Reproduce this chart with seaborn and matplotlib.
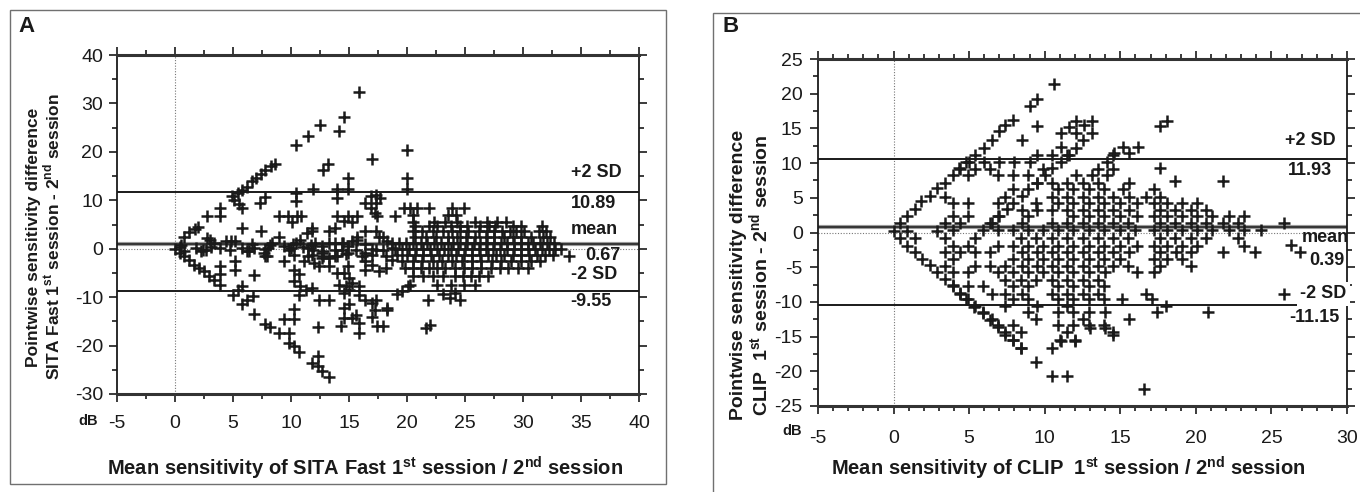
import pandas as pd
import matplotlib
matplotlib.use("Agg")
import matplotlib.pyplot as plt
import matplotlib.ticker as mticker
from matplotlib.patches import Rectangle
import seaborn as sns

# ── Panel A: SITA Fast, (mean sensitivity, difference) ────────────────────────
a_top = [(15.9, 32.3), (14.6, 27.2), (12.5, 25.5), (11.5, 23.2), (10.4, 21.5), (14.1, 24.4),
         (17.0, 18.6), (20.0, 20.4), (20.0, 14.5), (20.0, 12.4), (13.2, 17.5), (12.8, 16.3),
         (14.9, 14.6), (14.0, 12.4), (14.9, 12.4), (11.9, 12.3), (10.4, 11.5), (10.4, 9.8),
         (14.0, 10.5)]
a_upper_left = [(0.8, 2.5), (1.2, 3.4), (1.7, 4.0), (2.0, 4.4), (4.9, 10.8), (5.4, 11.5),
                (5.8, 12.2), (6.2, 12.8), (6.6, 13.9), (7.0, 14.6), (7.4, 15.4), (7.8, 16.2),
                (8.3, 17.0), (8.6, 17.5), (5.1, 10.1), (5.5, 9.2), (5.8, 8.4), (7.3, 9.5),
                (7.8, 10.6), (3.9, 8.4), (3.9, 6.7), (2.8, 6.7), (2.8, 2.2), (5.8, 4.3),
                (7.4, 3.6), (9.0, 6.7), (9.7, 6.7), (10.1, 5.6), (10.5, 6.7), (10.9, 6.7),
                (14.0, 6.7), (14.6, 5.8), (14.9, 6.7), (15.3, 5.6), (15.7, 6.7), (19.0, 6.7),
                (16.4, 9.4), (16.9, 10.8), (17.3, 11.1), (17.7, 10.5), (17.3, 9.4), (16.9, 8.4),
                (17.2, 7.4), (17.4, 6.7), (11.4, 3.2), (11.8, 4.3), (13.3, 3.6), (13.8, 4.3),
                (15.7, 2.5), (16.4, 3.6), (17.3, 3.6), (17.9, 2.5), (9.0, 2.5), (10.8, 1.9),
                (11.8, 3.6)]
a_middle = [(3.4, 1.2), (4.4, 1.5), (5.2, 1.5), (8.4, 1.2), (10.4, 1.2), (12.1, 1.2),
            (13.3, 1.2), (13.8, 1.2), (14.4, 1.2), (15.3, 1.5), (18.3, 1.5), (0.5, 0.8),
            (3.0, 1.8), (4.8, 1.5), (6.6, 1.0), (8.2, 0.8), (10.2, 1.0), (11.7, 0.8),
            (14.5, 1.2), (15.7, 1.9), (16.4, 1.0), (17.6, 2.5),
            (0.0, 0.0), (0.4, 0.4), (0.8, -0.5), (1.8, 0.1), (2.2, -0.5), (2.7, -0.2),
            (3.9, 0.2), (5.8, 0.2), (6.2, -0.5), (6.8, 0.2), (7.7, -0.9), (8.0, 0.2),
            (9.4, 0.5), (10.0, 0.2), (11.5, 0.2), (12.7, 0.5), (14.9, 0.5), (16.4, -0.9),
            (17.3, -0.2), (18.7, 0.2), (2.4, -0.2), (3.1, 0.3), (4.7, -0.2), (6.4, -0.4),
            (7.8, 0.0), (9.8, -0.2), (11.0, 0.4), (11.9, -0.3), (12.8, -0.4), (13.8, -0.2),
            (14.4, -0.2), (15.6, -0.2), (17.0, 0.0), (17.9, -0.2), (7.9, -1.5),
            (11.8, -1.3), (12.8, -1.5), (13.8, -1.5), (14.7, -1.1), (16.1, -1.5), (17.0, -1.3)]
a_lower_left = [(0.4, -0.9), (0.8, -1.6), (1.2, -2.3), (1.6, -3.3), (2.1, -4.0), (2.5, -4.7),
                (2.9, -5.6), (3.4, -6.4), (3.9, -7.4), (3.9, -3.6), (3.9, -5.2), (5.2, -2.6),
                (5.2, -4.3), (6.8, -5.4), (7.8, -1.6), (9.4, -2.6), (10.3, -1.2), (10.3, -4.3),
                (10.7, -5.3), (10.3, -6.7), (10.8, -7.8), (10.7, -9.5), (11.3, -8.5),
                (11.8, -8.1), (11.1, -2.6), (11.5, -1.6), (12.0, -2.9), (12.4, -3.6),
                (12.7, -0.9), (12.7, -1.9), (13.3, -1.9), (13.3, -3.6), (14.0, -1.6),
                (14.0, -5.0), (14.9, -0.9), (14.9, -3.6), (14.6, -5.0), (15.0, -6.0),
                (14.1, -7.4), (14.7, -7.8), (15.3, -7.1), (15.9, -7.8), (15.9, -9.5),
                (14.6, -9.2), (15.0, -8.5), (16.4, -10.5), (17.0, -11.2), (17.3, -10.5),
                (18.3, -12.6), (17.2, -12.6), (17.0, -14.0), (17.4, -16.0), (17.9, -16.0),
                (14.6, -12.2), (15.0, -11.5), (14.6, -14.3), (14.3, -16.0), (15.3, -14.3),
                (15.9, -15.3), (15.9, -17.4), (15.6, -13.6), (16.4, -4.3), (16.4, -2.6),
                (17.0, -3.3), (17.6, -4.7), (18.2, -4.0), (18.7, -2.3), (18.2, -1.6),
                (5.0, -9.5), (5.4, -8.5), (5.8, -7.6), (5.8, -11.5), (6.2, -10.5), (6.7, -9.7),
                (6.8, -13.5), (7.8, -15.5), (8.2, -16.2), (9.0, -17.5), (9.4, -14.5),
                (10.3, -14.5), (9.8, -17.4), (10.3, -12.4), (9.8, -19.5), (10.3, -20.1),
                (10.7, -21.4), (11.8, -23.7), (12.3, -22.2), (12.3, -24.3), (12.7, -25.3),
                (13.3, -26.5), (12.3, -16.2), (12.4, -10.5), (13.3, -10.5)]
a_far = [(34.0, -1.5), (19.1, -9.4), (19.6, -8.8), (20.1, -7.7), (21.8, -10.5), (23.1, -9.4),
         (23.7, -10.1), (24.1, -9.1), (24.6, -10.5), (18.3, -12.2), (21.6, -16.4), (22.0, -15.7)]
# dense diamond on the right: difference -> mean sensitivities
a_rows = {
    8.4: [19.7, 20.3, 20.9, 21.9, 23.9, 24.9],
    7.0: [20.5, 23.5, 24.2],
    5.6: [20.5, 22.3, 23.3, 24.3, 25.9, 26.9, 27.8, 28.5],
    4.6: [20.7, 21.9, 22.6, 23.8, 24.6, 25.2, 26.3, 27.1, 27.6, 29.1, 29.8, 31.6],
    3.6: [20.5, 21.3, 22.2, 23.1, 23.9, 24.6, 25.3, 26.2, 26.9, 27.5, 28.2, 28.9, 29.4, 30.1,
          31.4, 32.0],
    2.5: [20.7, 21.6, 22.5, 23.5, 24.3, 25.1, 25.9, 26.8, 27.5, 28.4, 29.1, 29.8, 30.7, 31.7,
          32.3],
    1.2: [18.7, 19.3, 19.9, 20.5, 21.2, 21.7, 22.3, 22.9, 23.5, 24.0, 24.6, 25.2, 25.8, 26.3,
          26.9, 27.5, 28.1, 28.6, 29.2, 29.8, 30.4, 30.9, 31.5, 32.1, 32.7],
    0.0: [19.0, 19.6, 20.2, 20.8, 21.4, 22.0, 22.6, 23.2, 23.8, 24.4, 25.0, 25.6, 26.2, 26.8,
          27.4, 28.0, 28.6, 29.2, 29.8, 30.4, 31.0, 31.6, 32.2, 32.8, 33.3],
    -1.2: [19.1, 20.0, 20.7, 21.4, 22.1, 22.8, 23.5, 24.2, 24.9, 25.6, 26.3, 27.0, 27.7, 28.4,
           29.1, 29.8, 30.5, 31.2, 31.9, 32.6],
    -2.6: [19.6, 20.5, 21.3, 22.2, 23.0, 23.9, 24.7, 25.6, 26.4, 27.3, 28.1, 29.0, 29.8, 30.7,
           31.5],
    -4.0: [19.8, 20.5, 21.2, 21.9, 22.6, 23.3, 24.1, 24.9, 25.6, 26.4, 27.2, 28.0, 28.7, 29.6,
           30.4],
    -5.6: [20.5, 21.4, 22.2, 23.1, 24.1, 24.8, 25.5, 26.2, 27.0],
    -7.4: [20.3, 22.6, 23.8, 24.9, 25.9],
}
a_limits = [11.7, 1.0, -8.7]          # drawn +2 SD, mean, -2 SD
a_texts = ["+2 SD", "10.89", "mean", "0.67", "-2 SD", "-9.55"]

# ── Panel B: CLIP ────────────────────────────────────────────────────────────
b_edges = [(0.0, 0.2), (0.4, 1.3), (0.9, 2.4), (1.4, 3.4), (1.8, 4.5), (2.4, 5.3), (2.9, 6.4),
           (3.4, 7.2), (3.9, 8.3), (4.3, 9.3), (4.8, 10.2), (5.4, 11.2), (6.0, 12.2),
           (6.5, 13.4), (7.0, 14.6), (7.4, 15.5), (7.9, 16.2), (0.9, 0.2), (0.4, -0.8),
           (1.4, -0.8), (0.9, -1.9), (1.4, -2.8), (1.9, -3.8), (2.4, -4.7), (2.9, -5.7),
           (3.4, -6.7), (3.9, -7.6), (4.4, -8.7), (4.8, -9.6), (5.3, -10.7), (5.9, -11.6),
           (6.4, -12.6), (6.9, -13.6), (7.4, -14.7), (7.9, -15.5), (8.4, -16.6), (2.9, 0.2),
           (6.5, 1.3), (7.0, 2.4), (7.5, 3.4), (7.9, 4.2), (8.5, 5.3), (8.9, 6.2), (9.5, 7.2),
           (10.0, 8.3), (10.5, 9.3), (11.1, 10.2), (11.6, 11.2), (12.1, 12.2)]
b_outliers = [(10.6, 21.4), (9.0, 18.2), (9.5, 19.2), (9.5, 15.4), (8.5, 13.4), (11.1, 14.3),
              (11.6, 15.2), (12.1, 16.1), (12.6, 15.5), (13.1, 16.1), (12.1, 14.3), (13.1, 14.3),
              (12.5, 13.4), (11.1, 12.3), (15.2, 12.3), (16.2, 12.3), (14.6, 11.4),
              (15.6, 11.4), (17.6, 15.4), (18.1, 16.1), (17.6, 9.3), (18.6, 7.4), (21.8, 7.4),
              (25.8, 1.3), (26.3, -1.8), (26.9, -2.8), (25.8, -8.8), (9.4, -18.6),
              (10.5, -20.7), (11.5, -20.7), (16.6, -22.6), (14.5, -14.8), (14.0, -13.8),
              (13.0, -13.8), (12.0, -15.6), (11.1, -15.6)]
b_rows = {
    11.2: [9.5, 10.5, 11.5, 14.5],
    10.1: [5.0, 6.0, 7.0, 8.0, 9.0, 14.1],
    9.1: [4.4, 5.4, 6.4, 9.9, 13.5, 14.5],
    8.3: [4.9, 6.9, 7.9, 8.9, 12.1, 13.1, 14.1],
    7.2: [9.5, 10.5, 11.5, 12.5, 13.5, 15.6],
    6.2: [7.9, 10.9, 11.9, 12.9, 13.9, 15.2, 17.2],
    5.1: [3.4, 7.4, 10.5, 11.5, 12.5, 13.5, 14.5, 15.6, 16.7, 17.6],
    4.3: [3.9, 4.9, 6.9, 9.4, 10.9, 11.9, 12.9, 13.9, 15.0, 16.1, 17.2, 18.1, 19.1, 20.1],
    3.3: [8.5, 9.5, 10.5, 11.5, 12.5, 13.5, 14.5, 15.6, 17.6, 18.6, 19.7, 20.7],
    2.4: [3.9, 4.9, 6.9, 8.9, 11.9, 12.9, 13.9, 15.0, 16.1, 17.2, 18.1, 19.1, 20.1, 21.1,
          22.2, 23.2],
    1.4: [3.4, 4.4, 6.4, 8.5, 10.5, 11.5, 12.5, 13.5, 14.5, 15.5, 17.6, 18.6, 19.7, 20.7,
          21.8, 22.8],
    0.3: [3.9, 5.9, 6.9, 7.9, 8.9, 9.9, 10.9, 11.9, 12.9, 13.9, 15.0, 16.0, 17.2, 18.1, 19.1,
          20.1, 21.1, 22.2, 23.2, 24.3],
    -0.8: [3.4, 5.4, 8.4, 9.4, 10.5, 11.5, 12.5, 13.5, 14.5, 15.5, 17.6, 18.6, 19.7, 20.7,
           22.8],
    -1.9: [3.9, 4.9, 6.9, 7.9, 8.9, 9.9, 10.9, 11.9, 12.9, 13.9, 15.0, 16.1, 17.2, 18.1, 19.1,
           20.1, 23.2],
    -2.8: [3.4, 4.4, 5.4, 6.4, 8.5, 9.5, 10.5, 11.5, 12.5, 13.5, 14.5, 15.6, 17.6, 18.7, 19.7,
           21.8, 23.9],
    -3.8: [3.9, 7.9, 8.9, 9.9, 10.9, 11.9, 12.9, 13.9, 15.0, 17.2, 18.1, 19.1],
    -4.8: [3.4, 5.4, 6.4, 7.4, 8.5, 9.5, 10.5, 11.5, 12.5, 13.5, 14.5, 15.5, 17.6, 19.7],
    -5.7: [3.9, 4.9, 6.9, 7.9, 8.9, 9.9, 10.9, 11.9, 12.9, 14.0, 16.1, 17.2],
    -6.8: [7.4, 8.4, 9.4, 10.5, 11.5, 12.5, 13.5],
    -7.7: [3.9, 4.9, 5.9, 7.9, 8.9, 10.9, 11.9, 12.9, 13.9],
    -8.8: [4.4, 6.5, 7.4, 8.5, 10.5, 11.5, 12.5, 13.5, 16.7],
    -9.6: [4.9, 7.9, 8.9, 10.9, 11.9, 12.9, 13.9, 15.1, 17.1],
    -10.6: [5.4, 7.4, 9.5, 11.5, 18.0],
    -11.5: [5.9, 8.9, 10.9, 11.9, 12.9, 14.0, 17.4, 20.8],
    -12.5: [6.5, 9.4, 12.5, 15.6],
    -13.4: [6.9, 7.9, 10.9, 11.9, 12.9, 13.9],
    -14.4: [7.4, 8.4, 11.5, 14.5],
    -15.5: [7.9, 11.0, 12.0],
    -16.6: [8.4, 10.5],
}
b_limits = [10.6, 0.76, -10.5]
b_texts = ["+2 SD", "11.93", "mean", "0.39", "-2 SD", "-11.15"]


def to_frame(pairs, rows):
    pts = list(pairs)
    for d, xs in rows.items():
        pts += [(m, d) for m in xs]
    return pd.DataFrame(pts, columns=["mean", "diff"])


df_a = to_frame(a_top + a_upper_left + a_middle + a_lower_left + a_far, a_rows)
df_b = to_frame(b_edges + b_outliers, b_rows)

# ── Style ────────────────────────────────────────────────────────────────────
sns.set_style("ticks")
plt.rcParams["font.family"] = ["Liberation Sans", "DejaVu Sans"]
plt.rcParams["mathtext.fontset"] = "custom"
plt.rcParams["mathtext.rm"] = "Liberation Sans"
plt.rcParams["mathtext.bf"] = "Liberation Sans:bold"
plt.rcParams["axes.unicode_minus"] = False
INK = "#1a1a1a"

fig = plt.figure(figsize=(13.6, 4.92), dpi=100)
ax_a = fig.add_axes([117 / 1360, 1 - 394 / 492, 522 / 1360, 339 / 492])
ax_b = fig.add_axes([818 / 1360, 1 - 406 / 492, 529 / 1360, 347 / 492])

# outer panel boxes
fig.add_artist(Rectangle((10 / 1360, 1 - 484 / 492), 656 / 1360, 474 / 492,
                         transform=fig.transFigure, fill=False, edgecolor="#707070", lw=1.0))
fig.add_artist(Rectangle((713 / 1360, -0.05), 0.5, 1 - 13 / 492 + 0.05,
                         transform=fig.transFigure, fill=False, edgecolor="#707070", lw=1.0))


def draw_panel(ax, df, xlim, ylim, xmaj, xmin, ymaj, ymin, limits, tick_pad):
    sns.scatterplot(data=df, x="mean", y="diff", ax=ax, marker="+", s=72,
                    color=INK, linewidth=1.8, legend=False, zorder=4)
    ax.set_xlim(*xlim)
    ax.set_ylim(*ylim)
    ax.axvline(0, color="#777777", lw=0.8, ls=(0, (1, 1.5)), zorder=1)
    ax.axhline(0, color="#777777", lw=0.8, ls=(0, (1, 1.5)), zorder=1)
    up, mean, low = limits
    ax.axhline(up, color=INK, lw=1.4, zorder=3)
    ax.axhline(mean, color="#9a9a9a", lw=3.0, zorder=2)
    ax.axhline(mean, color=INK, lw=1.1, zorder=3)
    ax.axhline(low, color=INK, lw=1.4, zorder=3)
    ax.xaxis.set_major_locator(mticker.MultipleLocator(xmaj))
    ax.xaxis.set_minor_locator(mticker.MultipleLocator(xmin))
    ax.yaxis.set_major_locator(mticker.MultipleLocator(ymaj))
    ax.yaxis.set_minor_locator(mticker.MultipleLocator(ymin))
    ax.tick_params(which="both", direction="out", top=True, right=True, width=1.2,
                   color=INK, labelsize=14, labelcolor=INK)
    ax.tick_params(which="major", length=6)
    ax.tick_params(which="minor", length=3.5)
    ax.tick_params(axis="x", pad=tick_pad[0])
    ax.tick_params(axis="y", pad=tick_pad[1])
    for side in ["left", "right"]:
        ax.spines[side].set_linewidth(1.3)
        ax.spines[side].set_color(INK)
    for side in ["top", "bottom"]:
        ax.spines[side].set_linewidth(2.2)
        ax.spines[side].set_color("#333333")
    ax.set_xlabel("")
    ax.set_ylabel("")


draw_panel(ax_a, df_a, (-5, 40), (-30, 40), 5, 2.5, 10, 5, a_limits, (9, 4))
draw_panel(ax_b, df_b, (-5, 30), (-25, 25), 5, 1, 5, 2.5, b_limits, (11, 5))

# ── Annotations panel A ─────────────────────────────────────────────────────
txt = dict(fontsize=13, fontweight="bold", color=INK, va="center", ha="left", zorder=6)
for (x, y), s in zip([(34.1, 15.7), (34.1, 9.3), (34.1, 3.9), (35.4, -1.4), (34.1, -5.4),
                      (34.1, -10.9)], a_texts):
    ax_a.text(x, y, s, **txt)

# ── Annotations panel B ─────────────────────────────────────────────────────
for (x, y), s in zip([(25.9, 13.3), (26.1, 9.0), (27.0, -0.7), (27.5, -4.1), (26.9, -8.8),
                      (26.2, -12.3)], b_texts):
    t = ax_b.text(x, y, s, clip_on=False, **txt)
    if s == "-2 SD":
        t.set_bbox(dict(facecolor="white", edgecolor="none", pad=2.5))

# ── Axis titles, panel letters, dB marks ────────────────────────────────────
lab = dict(fontweight="bold", color=INK)
fig.text(18 / 1360, 1 - 26 / 492, "A", fontsize=16, va="center", ha="left", **lab)
fig.text(722 / 1360, 1 - 26 / 492, "B", fontsize=16, va="center", ha="left", **lab)
fig.text(88 / 1360, 1 - 421 / 492, "dB", fontsize=10.5, va="center", ha="center", **lab)
fig.text(792 / 1360, 1 - 431 / 492, "dB", fontsize=10.5, va="center", ha="center", **lab)

fig.text(44 / 1360, 1 - 237 / 492,
         "Pointwise sensitivity difference\n"
         r"SITA Fast 1$^{\mathbf{st}}$ session - 2$^{\mathbf{nd}}$ session",
         rotation=90, fontsize=12.5, ha="center", va="center", linespacing=1.05,
         multialignment="center", **lab)
fig.text(751 / 1360, 1 - 275 / 492,
         "Pointwise sensitivity difference\n"
         r"CLIP  1$^{\mathbf{st}}$ session - 2$^{\mathbf{nd}}$ session",
         rotation=90, fontsize=14, ha="center", va="center", linespacing=1.05,
         multialignment="center", **lab)

fig.text(365 / 1360, 1 - 468 / 492,
         r"Mean sensitivity of SITA Fast 1$^{\mathbf{st}}$ session / 2$^{\mathbf{nd}}$ session",
         fontsize=14.5, ha="center", va="center", **lab)
fig.text(1068 / 1360, 1 - 468 / 492,
         r"Mean sensitivity of CLIP  1$^{\mathbf{st}}$ session / 2$^{\mathbf{nd}}$ session",
         fontsize=14.5, ha="center", va="center", **lab)

fig.savefig("out.png", dpi=100)
